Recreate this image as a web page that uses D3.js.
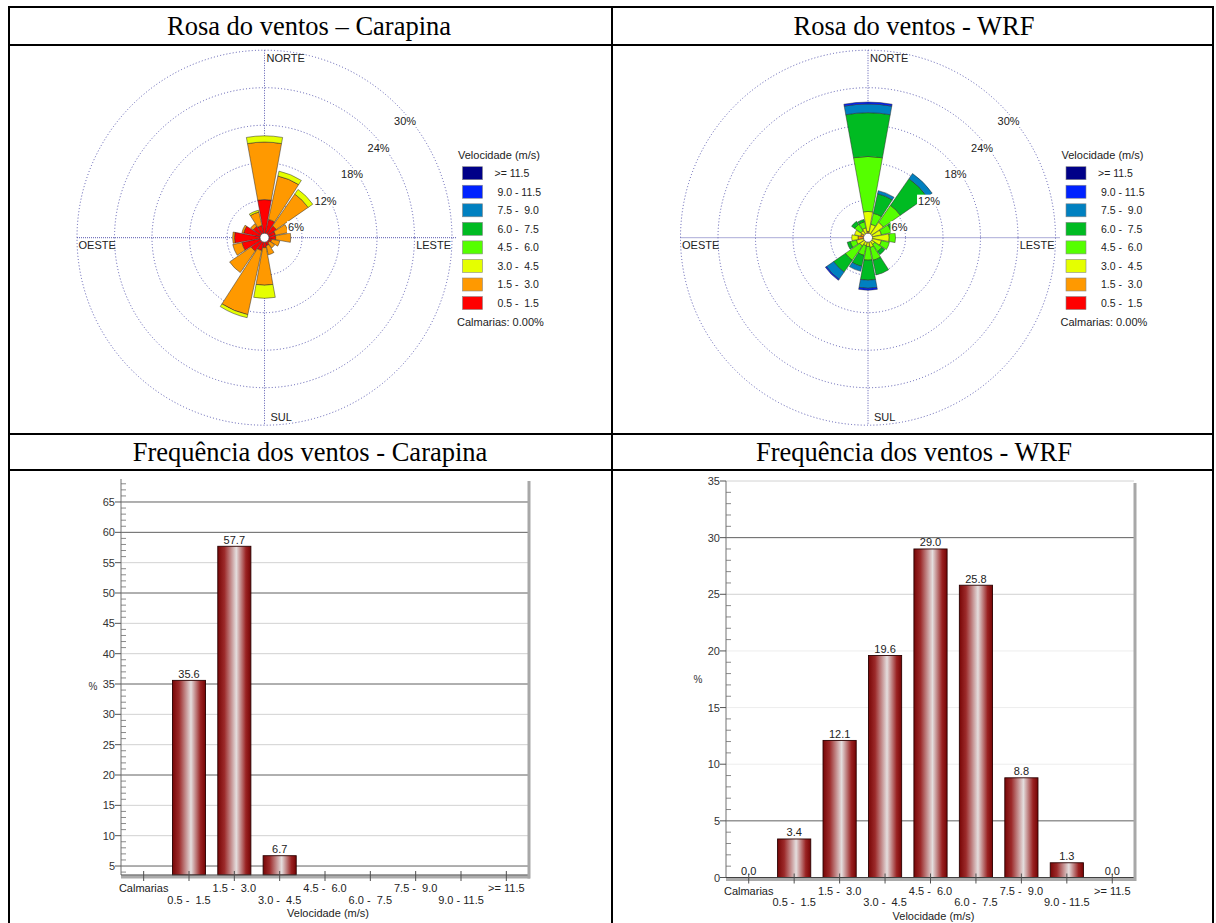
<!DOCTYPE html>
<html>
<head>
<meta charset="utf-8">
<script src="https://cdn.jsdelivr.net/npm/d3@7"></script>
<style>
  body { margin: 0; background: #fff; }
  svg { display: block; }
  text { font-family: "Liberation Sans", Arial, sans-serif; }
</style>
</head>
<body>
<svg id="chart" width="1216" height="923"></svg>
<script>
// ---------------- data ----------------
const directions = ["N","NNE","NE","ENE","E","ESE","SE","SSE","S","SSW","SW","WSW","W","WNW","NW","NNW"];
const speedClasses = ["0.5 -  1.5","1.5 -  3.0","3.0 -  4.5","4.5 -  6.0","6.0 -  7.5","7.5 -  9.0","9.0 - 11.5",">= 11.5"];
const classColors = ["#ff0000","#ff9900","#e5ff00","#55ff00","#00bb22","#0080c0","#0022ff","#000088"];

// Carapina station, frequency (%) per direction for each speed class
const carapina05 = [6.1,3.0,2.3,1.8,1.8,1.2,1.0,1.3,1.6,2.1,2.6,3.7,4.8,3.4,2.2,2.0];
const carapina15 = [9.2,7.1,6.2,2.1,2.4,1.3,1.0,1.5,6.0,10.5,4.2,1.5,0.3,0.3,0.5,2.2];
const carapina30 = [1.0,0.8,0.9,0,0,0,0,0,2.1,0.5,0,0,0,0,0,0.3];
const carapina45 = [0,0,0,0,0,0,0,0,0,0,0,0,0,0,0,0];
const carapina60 = [0,0,0,0,0,0,0,0,0,0,0,0,0,0,0,0];
const carapina75 = [0,0,0,0,0,0,0,0,0,0,0,0,0,0,0,0];
const carapina90 = [0,0,0,0,0,0,0,0,0,0,0,0,0,0,0,0];
const carapina115 = [0,0,0,0,0,0,0,0,0,0,0,0,0,0,0,0];

// WRF model, frequency (%) per direction for each speed class
const wrf05 = [0,0,0,0,0,0,0,0,0,0,0,0.2,0.3,0.2,0,0];
const wrf15 = [1.0,0.6,0.6,0.4,0.4,0.4,0.3,0.3,0.4,0.3,0.3,0.5,1.3,1.0,0.4,0.4];
const wrf30 = [3.2,1.6,2.4,1.8,3.0,1.8,1.0,1.3,1.0,1.0,1.3,1.2,1.0,1.0,1.0,1.2];
const wrf45 = [8.8,1.8,3.3,1.6,1.0,1.3,1.4,2.1,2.2,1.6,2.8,1.0,0,0,1.2,1.0];
const wrf60 = [7.0,3.2,5.2,0.7,0,0,0.6,2.4,3.2,1.8,2.3,0.5,0,0,0.6,0.4];
const wrf75 = [1.4,0.5,1.0,0,0,0,0,0,1.3,0.8,1.4,0,0,0,0,0];
const wrf90 = [0.3,0,0,0,0,0,0,0,0.3,0,0.2,0,0,0,0,0];
const wrf115 = [0,0,0,0,0,0,0,0,0,0,0,0,0,0,0,0];

const ringValues = [6, 12, 18, 24, 30];

// frequency histograms
const histCategories = ["Calmarias","0.5 -  1.5","1.5 -  3.0","3.0 -  4.5","4.5 -  6.0","6.0 -  7.5","7.5 -  9.0","9.0 - 11.5",">= 11.5"];
const carapinaFreq = [0.0, 35.6, 57.7, 6.7, 0.0, 0.0, 0.0, 0.0, 0.0];
const wrfFreq = [0.0, 3.4, 12.1, 19.6, 29.0, 25.8, 8.8, 1.3, 0.0];
const carapinaTicks = [5,10,15,20,25,30,35,40,45,50,55,60,65];
const wrfTicks = [0,5,10,15,20,25,30,35];

// ---------------- drawing ----------------
const svg = d3.select("#chart");
const defs = svg.append("defs");
const grad = defs.append("linearGradient").attr("id", "barGrad")
  .attr("x1", "0").attr("x2", "1").attr("y1", "0").attr("y2", "0");
[[0, "#780606"], [0.2, "#9c2a2a"], [0.56, "#e4dede"], [0.85, "#9a2222"], [1, "#760404"]]
  .forEach(([o, c]) => grad.append("stop").attr("offset", o).attr("stop-color", c));

// table frame
const table = svg.append("g").attr("stroke", "#000").attr("stroke-width", 2);
[7, 45, 434, 470].forEach(y => table.append("line").attr("x1", 8).attr("x2", 1214).attr("y1", y).attr("y2", y));
[9, 612, 1213].forEach(x => table.append("line").attr("x1", x).attr("x2", x).attr("y1", 6).attr("y2", 923));

const titleFont = '"Liberation Serif", "Times New Roman", serif';
function cellTitle(x, y, s) {
  svg.append("text").attr("x", x).attr("y", y).attr("text-anchor", "middle")
    .style("font-family", titleFont).style("font-size", "26.5px").attr("fill", "#000").text(s);
}
cellTitle(309, 35, "Rosa do ventos \u2013 Carapina");
cellTitle(914, 35, "Rosa do ventos - WRF");
cellTitle(310, 461, "Frequ\u00eancia dos ventos - Carapina");
cellTitle(914, 461, "Frequ\u00eancia dos ventos - WRF");

function drawRose(cx, cy, classArrays) {
  const g = svg.append("g").attr("transform", `translate(${cx},${cy})`);
  const r = d3.scaleLinear().domain([0, 30]).range([0, 187.5]);
  const ringColor = "#5858b0";

  // rings and axes
  ringValues.forEach(v => g.append("circle").attr("r", r(v)).attr("fill", "none")
    .attr("stroke", ringColor).attr("stroke-width", 1).attr("stroke-dasharray", "1,2.2"));
  g.append("line").attr("x1", 0).attr("x2", 0).attr("y1", -r(30)).attr("y2", r(30))
    .attr("stroke", ringColor).attr("stroke-dasharray", "1,1.5");
  g.append("line").attr("x1", -r(30)).attr("x2", r(30) + 4).attr("y1", 0).attr("y2", 0)
    .attr("stroke", ringColor).attr("stroke-dasharray", "1,1");

  // petals
  const rows = directions.map((d, i) => {
    const o = { dir: d };
    speedClasses.forEach((c, k) => { o[c] = classArrays[k][i]; });
    return o;
  });
  const series = d3.stack().keys(speedClasses)(rows);
  const half = 10.25 * Math.PI / 180;
  const arc = d3.arc();
  series.forEach((s, k) => {
    s.forEach((seg, i) => {
      if (seg[1] - seg[0] <= 0) return;
      const a = i * 22.5 * Math.PI / 180;
      g.append("path").attr("d", arc({
        innerRadius: r(seg[0]), outerRadius: r(seg[1]),
        startAngle: a - half, endAngle: a + half
      })).attr("fill", classColors[k]).attr("stroke", "#2a2a2a").attr("stroke-width", 0.5);
    });
  });

  // centre hole
  g.append("circle").attr("r", 4.5).attr("fill", "#fff").attr("stroke", "#444").attr("stroke-width", 0.7);

  // ring labels along the NE diagonal
  ringValues.forEach(v => {
    const step = r(v) / Math.SQRT2;
    const tx = step - 3, ty = -step + 16;
    const t = g.append("text").attr("x", tx).attr("y", ty + 4).style("font-size", "11px")
      .attr("fill", "#222").text(v + "%");
    const w = t.node().getComputedTextLength();
    g.insert("rect", () => t.node()).attr("x", tx - 1).attr("y", ty - 6).attr("width", w + 2)
      .attr("height", 12).attr("fill", "#fff");
  });

  // compass labels
  const lab = (x, y, s, anchor) => g.append("text").attr("x", x).attr("y", y)
    .attr("text-anchor", anchor || "start").style("font-size", "11px").attr("fill", "#222").text(s);
  lab(2, -r(30) + 12, "NORTE");
  lab(6, r(30) - 4.5, "SUL");
  lab(-r(30) + 1.5, 11, "OESTE");
  lab(r(30) - 1, 11, "LESTE", "end");

  // legend
  const lg = svg.append("g").attr("transform", `translate(${cx + 193.5},${cy})`);
  lg.append("text").attr("x", 0).attr("y", -79).style("font-size", "11px").attr("fill", "#222").text("Velocidade (m/s)");
  const order = d3.range(speedClasses.length).reverse();
  order.forEach((k, j) => {
    const y0 = -71 + j * 18.55;
    lg.append("rect").attr("x", 4.5).attr("y", y0).attr("width", 20).attr("height", 13)
      .attr("fill", classColors[k]).attr("stroke", "#888").attr("stroke-width", 0.6);
    lg.append("text").attr("x", 36.5).attr("y", y0 + 10.5).attr("xml:space", "preserve")
      .style("font-size", "10.5px").style("white-space", "pre").attr("fill", "#222")
      .text(k === speedClasses.length - 1 ? speedClasses[k] : " " + speedClasses[k]);
  });
  lg.append("text").attr("x", -1).attr("y", 88).style("font-size", "11px").attr("fill", "#222").text("Calmarias: 0.00%");
}

drawRose(264.5, 237.7, [carapina05, carapina15, carapina30, carapina45, carapina60, carapina75, carapina90, carapina115]);
drawRose(868, 237.7, [wrf05, wrf15, wrf30, wrf45, wrf60, wrf75, wrf90, wrf115]);

function drawHist(opt) {
  const g = svg.append("g");
  const x = d3.scaleBand().domain(histCategories).range([opt.x0, opt.x1]).paddingInner(0.27).paddingOuter(0.135);
  const y = d3.scaleLinear().domain(opt.domain).range([opt.base, opt.top]);
  const x0 = opt.x0, x1 = opt.x1;

  // grid lines
  opt.ticks.forEach(v => {
    const dark = opt.darkGrid.includes(v);
    const faint = opt.faintGrid.includes(v);
    g.append("line").attr("x1", x0).attr("x2", x1 - 1).attr("y1", y(v)).attr("y2", y(v))
      .attr("stroke", dark ? "#606060" : (faint ? "#ededed" : "#d2d2d2")).attr("stroke-width", 1);
  });
  // minor ticks
  d3.range(Math.ceil(opt.domain[0]), Math.floor(opt.domain[1]) + 1).filter(v => v % 5 !== 0).forEach(v => {
    g.append("line").attr("x1", x0).attr("x2", x0 + 5).attr("y1", y(v)).attr("y2", y(v))
      .attr("stroke", "#8a8a8a");
  });
  // y axis
  g.append("line").attr("x1", x0).attr("x2", x0).attr("y1", opt.top).attr("y2", opt.base).attr("stroke", "#707070");
  opt.ticks.forEach(v => {
    g.append("line").attr("x1", x0 - 6).attr("x2", x0).attr("y1", y(v)).attr("y2", y(v)).attr("stroke", "#555");
    g.append("text").attr("x", x0 - 6).attr("y", y(v) + 4).attr("text-anchor", "end")
      .style("font-size", "11px").attr("fill", "#333").text(v);
  });
  g.append("text").attr("x", opt.pctX).attr("y", opt.pctY).attr("text-anchor", "middle")
    .style("font-size", "10px").attr("fill", "#333").text("%");

  // bars
  histCategories.forEach((c, i) => {
    const v = opt.values[i];
    const top = y(Math.max(v, opt.domain[0]));
    if (opt.base - top > 0) {
      g.append("rect").attr("x", x(c)).attr("y", top).attr("width", x.bandwidth())
        .attr("height", opt.base - top).attr("fill", "url(#barGrad)")
        .attr("stroke", "#2a0000").attr("stroke-width", 0.9);
    }
    if (v >= opt.domain[0]) {
      g.append("text").attr("x", x(c) + x.bandwidth() / 2).attr("y", top - 2.5).attr("text-anchor", "middle")
        .style("font-size", "11px").attr("fill", "#222").text(v.toFixed(1));
    }
  });

  // frame: bottom axis with shadow, right edge
  g.append("rect").attr("x", x0).attr("y", opt.base + 0.5).attr("width", x1 - x0 + 1).attr("height", 3).attr("fill", "#ababab");
  g.append("line").attr("x1", x0).attr("x2", x1).attr("y1", opt.base).attr("y2", opt.base).attr("stroke", "#404040");
  g.append("rect").attr("x", x1 - 1.5).attr("y", opt.top + 2).attr("width", 3).attr("height", opt.base - opt.top + 1.5).attr("fill", "#a8a8a8");

  // category ticks and labels
  histCategories.forEach((c, i) => {
    const cxp = x(c) + x.bandwidth() / 2;
    g.append("line").attr("x1", cxp).attr("x2", cxp).attr("y1", opt.base - 4).attr("y2", opt.base + 6)
      .attr("stroke", "#505050");
    g.append("text").attr("x", cxp).attr("y", opt.base + (i % 2 === 0 ? 17 : 28.5)).attr("text-anchor", "middle")
      .attr("xml:space", "preserve").style("white-space", "pre")
      .style("font-size", "11px").attr("fill", "#222").text(c);
  });
  g.append("text").attr("x", (x0 + x1) / 2 + 3).attr("y", opt.base + 42).attr("text-anchor", "middle")
    .style("font-size", "11px").attr("fill", "#222").text("Velocidade (m/s)");
}

drawHist({
  x0: 121, x1: 529, top: 479, base: 875, domain: [3.52, 68.79],
  ticks: carapinaTicks, values: carapinaFreq, darkGrid: [5, 20, 35, 50, 60, 65], faintGrid: [],
  pctX: 93, pctY: 690
});
drawHist({
  x0: 726, x1: 1135, top: 481, base: 877.5, domain: [0, 35],
  ticks: wrfTicks, values: wrfFreq, darkGrid: [5, 30], faintGrid: [10, 15, 20],
  pctX: 698, pctY: 683
});
</script>
</body>
</html>
